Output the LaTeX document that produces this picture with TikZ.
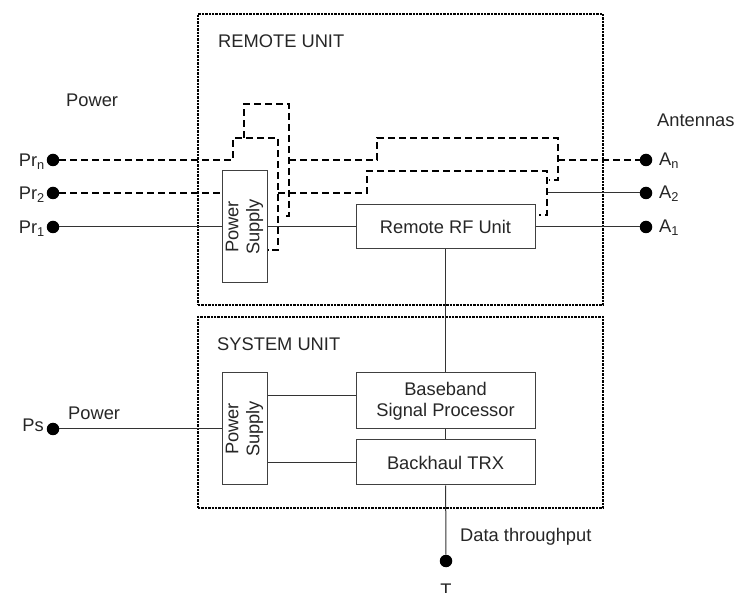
\documentclass[tikz,border=0pt]{standalone}
\usepackage{fontspec}
\setmainfont{Liberation Sans}
\tikzset{
  lbl/.style={inner sep=0pt, text=black!85, font=\fontsize{18.3}{21}\selectfont},
  dot/.style={circle, fill=black, inner sep=0pt, minimum size=12.5pt},
  box/.style={draw=black!75, line width=1pt, inner sep=0pt, align=center,
    text=black!85, font=\fontsize{18.3}{21}\selectfont},
  unitbox/.style={draw=black, line width=1.6pt, dash pattern=on 2.4pt off 1pt, inner sep=0pt},
  wire/.style={draw=black!80, line width=1pt},
  dashline/.style={draw=black, line width=1.4pt, dash pattern=on 7pt off 4pt}
}
\begin{document}
\begin{tikzpicture}[x=1pt,y=-1pt]
\useasboundingbox (0,0) rectangle (734,593);
% the two units
   \node[unitbox, minimum width=405pt, minimum height=291pt] at (400.5,159.5) (remote) {};
   \node[unitbox, minimum width=405pt, minimum height=191pt] at (400.5,412.5) (system) {};
   \node[lbl, anchor=base west] at (218,48)  (remotelbl) {REMOTE UNIT};
   \node[lbl, anchor=base west] at (217,351) (systemlbl) {SYSTEM UNIT};
% blocks
   \node[box, rotate=90, minimum width=112pt, minimum height=45pt] at (244.5,227) (psr) {Power\\Supply};
   \node[box, rotate=90, minimum width=112pt, minimum height=45pt] at (244.5,429) (pss) {Power\\Supply};
   \node[box, minimum width=179pt, minimum height=44pt] at (445.5,227)   (rf) {Remote RF Unit};
   \node[box, minimum width=179pt, minimum height=56pt] at (445.5,401)   (bb) {Baseband\\Signal Processor};
   \node[box, minimum width=179pt, minimum height=45pt] at (445.5,462.5) (bh) {Backhaul TRX};
% terminals
   \node[dot] at (53,160)  (prn) {};
   \node[dot] at (53,193)  (pr2) {};
   \node[dot] at (53,227)  (pr1) {};
   \node[dot] at (53,429)  (ps) {};
   \node[dot] at (646,160) (an) {};
   \node[dot] at (646,193) (a2) {};
   \node[dot] at (646,227) (a1) {};
   \node[dot] at (446,561) (t) {};
   \node[lbl, anchor=base east] at (45,166.5) (prnlbl) {Pr\textsubscript{n}};
   \node[lbl, anchor=base east] at (45,199.5) (pr2lbl) {Pr\textsubscript{2}};
   \node[lbl, anchor=base east] at (45,233.5) (pr1lbl) {Pr\textsubscript{1}};
   \node[lbl, anchor=base east] at (44,432)   (pslbl) {Ps};
   \node[lbl, anchor=base west] at (659,166)  (anlbl) {A\textsubscript{n}};
   \node[lbl, anchor=base west] at (659,199)  (a2lbl) {A\textsubscript{2}};
   \node[lbl, anchor=base west] at (659,233)  (a1lbl) {A\textsubscript{1}};
   \node[lbl, anchor=base] at (446,596) (tlbl) {T};
   \node[lbl, anchor=base west] at (66,107)  (powerr) {Power};
   \node[lbl, anchor=base west] at (68,420)  (powers) {Power};
   \node[lbl, anchor=base west] at (657,127) (antlbl) {Antennas};
   \node[lbl, anchor=base west] at (460,541) (datalbl) {Data throughput};
% solid wiring
   \draw[wire] (pr1) -- (psr);
   \draw[wire] (psr) -- (rf);
   \draw[wire] (rf) -- (a1);
   \draw[wire] (rf) -- (bb);
   \draw[wire] (bb) -- (bh);
   \draw[wire] (bh) -- (t);
   \draw[wire] (ps) -- (pss);
   \draw[wire] ([yshift=5pt]bb.west) -- ([yshift=5pt]bb.west -| pss.south);
   \draw[wire] (bh.west) -- (bh.west -| pss.south);
   \coordinate (jn) at (558,160);
   \coordinate (j2) at (547,193);
   \draw[wire] (j2) -- (a2);
% dashed paths for the other branches
   \draw[dashline] (prn) -- (233,160) |- (278,138) |- (psr.south |- 0,250);
   \draw[dashline] (244,138) |- (289,104) |- (283,216);
   \draw[dashline] (pr2) -- (psr.north |- pr2);
   \draw[dashline] (289,160) -- (377,160) |- (558,138) |- (549,180);
   \draw[dashline] (jn) -- (an);
   \draw[dashline] (278,193) -- (367,193) |- (547,171) |- (539,215);
\end{tikzpicture}
\end{document}
